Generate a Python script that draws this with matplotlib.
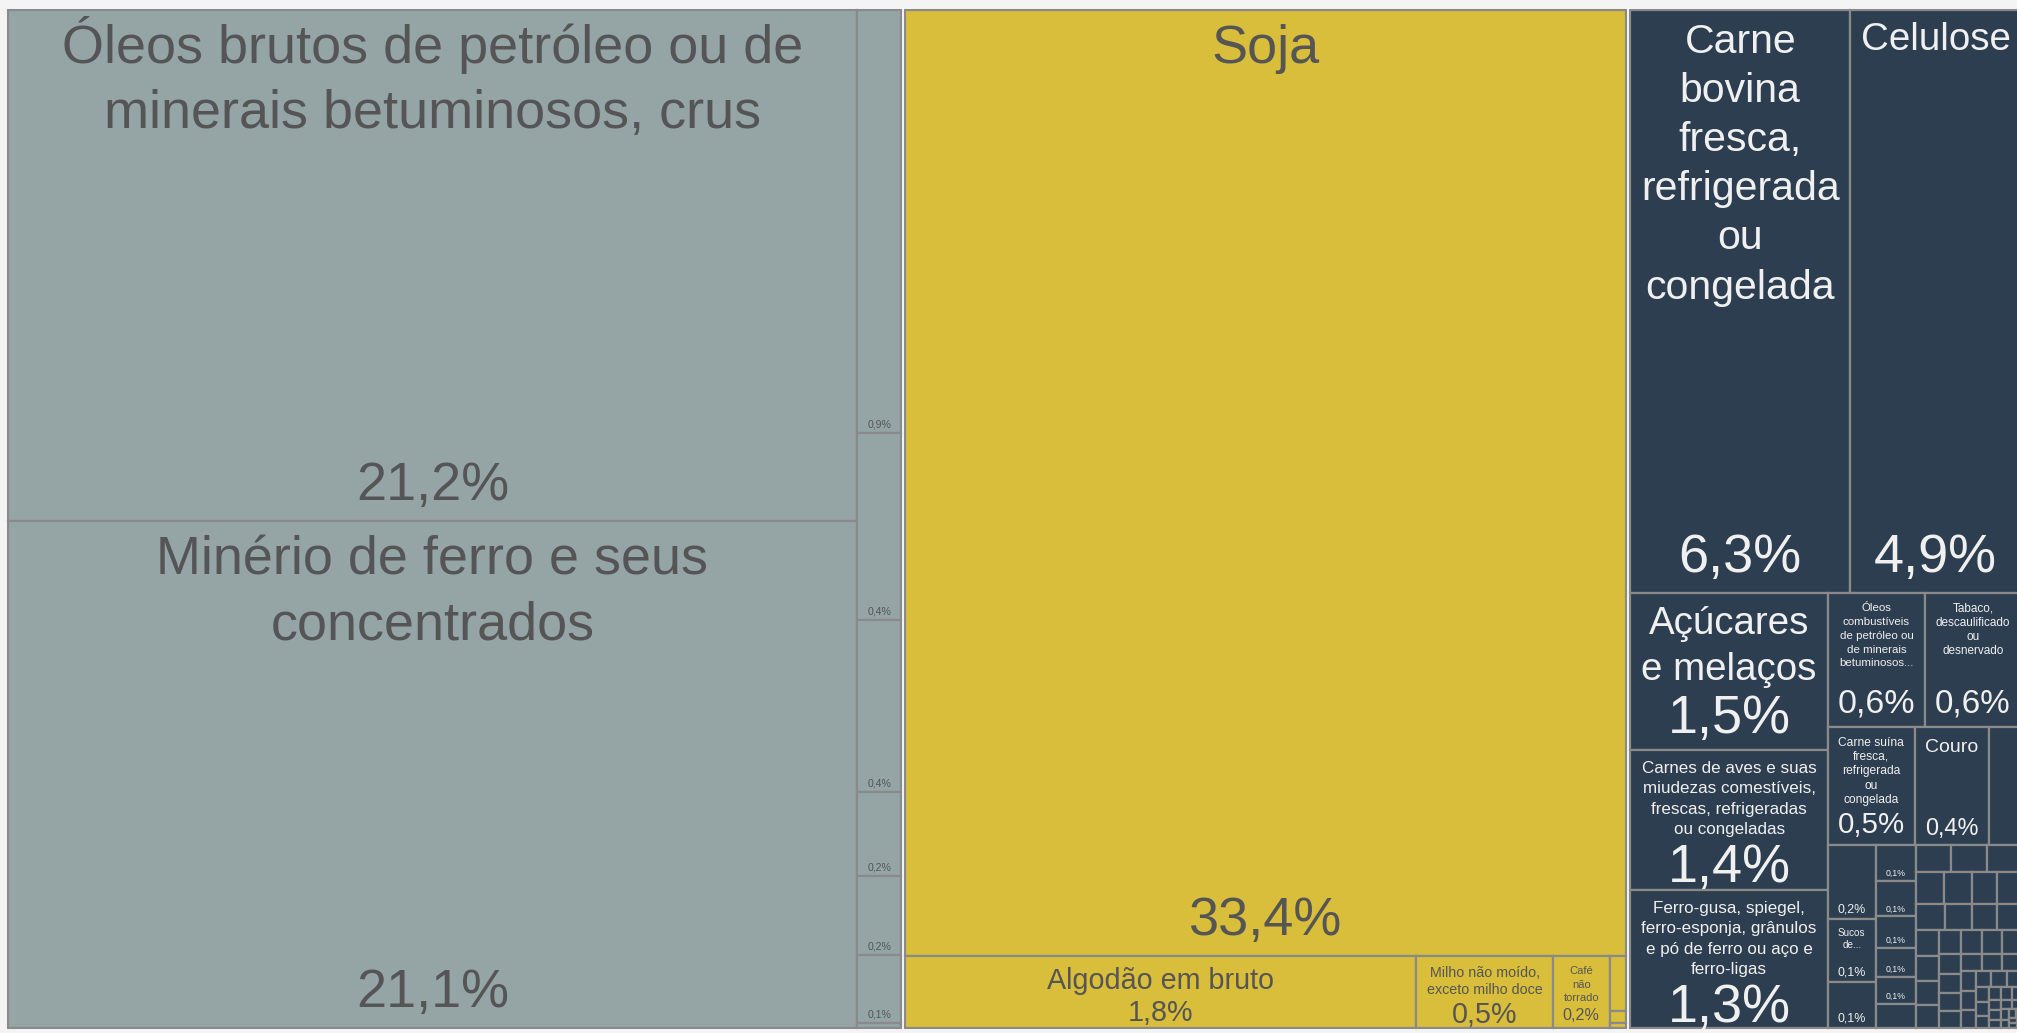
import functools
import matplotlib
matplotlib.use("Agg")
import matplotlib.pyplot as plt
from matplotlib.patches import Rectangle
from matplotlib.font_manager import FontProperties
from matplotlib.textpath import TextToPath

gray_names = [
    "Óleos brutos de petróleo ou de minerais betuminosos, crus",
    "Minério de ferro e seus concentrados",
    "", "", "", "", "", "", "",
]
gray_values = [21.24, 21.06, 0.91, 0.40, 0.37, 0.18, 0.17, 0.146, 0.01]

yellow_names = ["Soja", "Algodão em bruto", "Milho não moído, exceto milho doce",
                "Café não torrado", "", "", ""]
yellow_values = [33.4, 1.8, 0.48, 0.2, 0.045, 0.01, 0.004]

dark_names = [
    "Carne bovina fresca, refrigerada ou congelada",
    "Celulose",
    "Açúcares e melaços",
    "Carnes de aves e suas miudezas comestíveis, frescas, refrigeradas ou congeladas",
    "Ferro-gusa, spiegel, ferro-esponja, grânulos e pó de ferro ou aço e ferro-ligas",
    "Óleos combustíveis de petróleo ou de minerais betuminosos...",
    "Tabaco, descaulificado ou desnervado",
    "Carne suína fresca, refrigerada ou congelada",
    "Couro",
    "", "",
    "Sucos de...",
]
dark_values = [6.3, 4.9, 1.52, 1.36, 1.34, 0.64, 0.63, 0.51, 0.43, 0.19,
               0.174, 0.148, 0.11, 0.07, 0.07, 0.062, 0.058, 0.052, 0.048,
               # the many tiny tiles in the bottom right corner
               0.046, 0.046, 0.045, 0.045, 0.044, 0.040, 0.038, 0.036, 0.034,
               0.032, 0.030, 0.030, 0.029, 0.028, 0.026, 0.025, 0.024, 0.024,
               0.022, 0.021, 0.020, 0.019, 0.018, 0.018, 0.017, 0.016, 0.015,
               0.014, 0.013, 0.012, 0.012, 0.011, 0.010, 0.009, 0.008, 0.008,
               0.007, 0.006, 0.006, 0.006, 0.005, 0.005, 0.004, 0.004, 0.003,
               0.003, 0.002, 0.002, 0.002, 0.001, 0.001]
dark_names += [""] * (len(dark_values) - len(dark_names))

group_colors = ["#95a5a6", "#d9be3b", "#2c3e50"]
text_colors = ["#555555", "#555555", "#f0f0f0"]

# strips as they appear in the picture: (number of tiles, vertical strip?)
# a vertical strip stacks its tiles top to bottom, a horizontal one left to right;
# after the plan runs out the usual squarify rule takes over
top_plan = [(3, False)]
gray_plan = [(2, True)]
yellow_plan = []
dark_plan = [(2, False), (3, True), (2, False), (3, False), (3, True), (6, True)]

DPI = 100
W, H = 2017, 1033
FONT = "Liberation Sans"

_t2p = TextToPath()
_prop = FontProperties(family=FONT, size=100)


@functools.lru_cache(maxsize=None)
def em_width(s):
    # width of s in px for a 1 px font
    return _t2p.get_text_width_height_descent(s, _prop, ismath=False)[0] / 100


def best_strip(vals, w, h):
    rest = sum(vals)
    vertical = w >= h
    side = h if vertical else w
    best, n = None, 1
    for k in range(1, len(vals) + 1):
        s = sum(vals[:k])
        thick = (w if vertical else h) * s / rest
        worst = max(max(thick / (side * v / s), (side * v / s) / thick) for v in vals[:k])
        if best is not None and worst > best:
            break
        best, n = worst, k
    return n, vertical


def tile(values, x, y, w, h, plan):
    cells = []
    plan = list(plan)
    i = 0
    while i < len(values):
        rest = sum(values[i:])
        if plan:
            n, vertical = plan.pop(0)
        else:
            n, vertical = best_strip(values[i:], w, h)
        strip = values[i:i + n]
        s = sum(strip)
        if vertical:
            sw = w * s / rest
            yy = y
            for v in strip:
                cells.append((x, yy, sw, h * v / s))
                yy += h * v / s
            x += sw
            w -= sw
        else:
            sh = h * s / rest
            xx = x
            for v in strip:
                cells.append((xx, y, w * v / s, sh))
                xx += w * v / s
            y += sh
            h -= sh
        i += n
    return cells


def wrap(name, size, maxw):
    pieces = []
    for word in name.split():
        parts = word.split("-")
        for j, p in enumerate(parts):
            pieces.append((p + "-" if j < len(parts) - 1 else p, j == 0))
    lines, cur = [], ""
    for p, space in pieces:
        if em_width(p) * size > maxw:
            return None
        cand = cur + (" " if space and cur else "") + p
        if not cur or em_width(cand) * size <= maxw:
            cur = cand
        else:
            lines.append(cur)
            cur = p
    if cur:
        lines.append(cur)
    return lines


def label(ax, x, y, w, h, name, value, color):
    pct = f"{value:.1f}".replace(".", ",") + "%"
    if pct.startswith("0,0"):
        return
    sp = min(54, (w - 20) / em_width(pct), 0.4 * h)
    if sp < 7:
        return
    cx = x + w / 2
    lines, sn, slack = [], 0, h
    if name:
        budget = h - 0.75 * sp - 2 - 0.05 * sp - 4
        s = sp
        while s >= 8:
            got = wrap(name, s, w - 20)
            if got:
                need = 9 + 0.83 * s + (len(got) - 1) * 1.2 * s + 0.21 * s
                if need <= budget:
                    lines, sn, slack = got, s, budget - need
                    break
            s -= 0.5
    pad_b = min(0.35 * sp + 2, 2 + 0.05 * sp + slack)
    for i, line in enumerate(lines):
        ax.text(cx, y + 9 + 0.83 * sn + i * 1.2 * sn, line, ha="center", va="baseline",
                fontsize=sn * 72 / DPI, color=color, family=FONT)
    ax.text(cx, y + h - pad_b, pct, ha="center", va="baseline",
            fontsize=sp * 72 / DPI, color=color, family=FONT)


fig = plt.figure(figsize=(W / DPI, H / DPI), dpi=DPI, facecolor="#f4f4f4")
ax = fig.add_axes([0, 0, 1, 1])
ax.set_xlim(0, W)
ax.set_ylim(H, 0)
ax.axis("off")

area = (5.5, 7.5, 2017.5, 1022.5)
ax.add_patch(Rectangle(area[:2], area[2], area[3], fc="white", ec="none"))

groups = [(gray_names, gray_values, gray_plan),
          (yellow_names, yellow_values, yellow_plan),
          (dark_names, dark_values, dark_plan)]
totals = [sum(g[1]) for g in groups]
group_boxes = tile(totals, *area, top_plan)

for (names, values, plan), box, fc, tc in zip(groups, group_boxes, group_colors, text_colors):
    gx, gy, gw, gh = box
    cells = tile(values, gx + 2, gy + 2, gw - 4, gh - 4, plan)
    for name, v, (x, y, w, h) in zip(names, values, cells):
        ax.add_patch(Rectangle((x, y), w, h, fc=fc, ec="#8a8a8a", lw=1.6))
        label(ax, x, y, w, h, name, v, tc)

fig.savefig("out.png", dpi=DPI, facecolor=fig.get_facecolor())
